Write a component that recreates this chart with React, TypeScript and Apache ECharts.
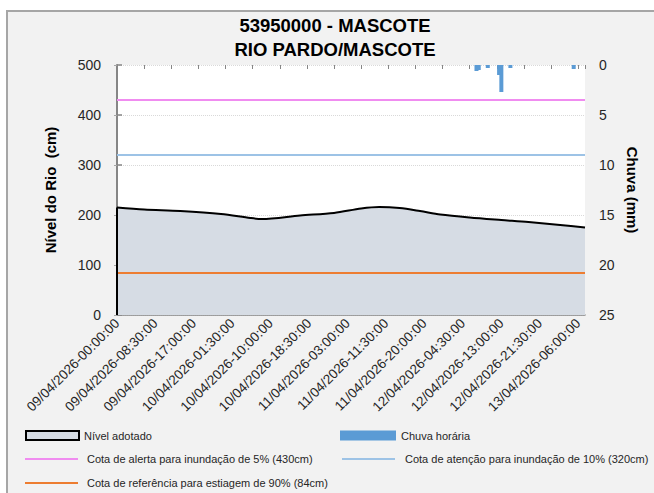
import React, { useEffect, useRef } from 'react';
import * as echarts from 'echarts';

// ---- data ----
const titleLines = ['53950000 - MASCOTE', 'RIO PARDO/MASCOTE'];

const xTickLabels = [
  '09/04/2026-00:00:00',
  '09/04/2026-08:30:00',
  '09/04/2026-17:00:00',
  '10/04/2026-01:30:00',
  '10/04/2026-10:00:00',
  '10/04/2026-18:30:00',
  '11/04/2026-03:00:00',
  '11/04/2026-11:30:00',
  '11/04/2026-20:00:00',
  '12/04/2026-04:30:00',
  '12/04/2026-13:00:00',
  '12/04/2026-21:30:00',
  '13/04/2026-06:00:00',
];
const xMinHours = 0;
const xMaxHours = 103.5;
const labelStepHours = 8.5;
const tickStepHours = 6;

// hours since 09/04/2026 00:00
const levelHours = [0, 6, 14, 23, 29.5, 32, 40.5, 48, 54, 58, 62.5, 67, 71.5, 78, 85, 91, 98, 103.5];
const levelValues = [215, 211, 208, 202, 194, 192, 199, 204, 213, 216, 214, 208, 201, 195, 190, 186, 180, 175];

const rainHours = [79.5, 80, 82, 84.5, 85, 87, 101];
const rainValues = [0.6, 0.5, 0.3, 1.0, 2.7, 0.3, 0.4];

const alertLevel = 430;
const attentionLevel = 320;
const droughtLevel = 84;

const NAME_LEVEL = 'Nível adotado';
const NAME_RAIN = 'Chuva horária';
const NAME_ALERT = 'Cota de alerta para inundação de 5% (430cm)';
const NAME_ATTENTION = 'Cota de atenção para inundação de 10% (320cm)';
const NAME_DROUGHT = 'Cota de referência para estiagem de 90% (84cm)';

const COLOR_ALERT = '#f08cf0';
const COLOR_ATTENTION = '#9dc3e6';
const COLOR_DROUGHT = '#ed7d31';

const FONT = '"Liberation Sans", Arial, sans-serif';

export default function App() {
  const ref = useRef<HTMLDivElement>(null);

  useEffect(() => {
    if (!ref.current) return;
    const chart = echarts.init(ref.current, null, { renderer: 'svg' });

    const levelData = levelHours.map((h, i) => [h, levelValues[i]]);
    const rainData = rainHours.map((h, i) => [h, rainValues[i]]);
    const flat = (v: number) => [[xMinHours, v], [xMaxHours, v]];

    const legendCommon = {
      padding: 0,
      selectedMode: false,
      orient: 'horizontal',
      textStyle: { fontSize: 11, color: '#262626', fontFamily: FONT },
    };

    const lineLegend = (name: string, color: string, left: number, top: number, pad: number) => ({
      ...legendCommon,
      left,
      top,
      itemWidth: 53,
      itemHeight: 2,
      textStyle: { ...legendCommon.textStyle, padding: [0, 0, 0, pad] },
      data: [{ name, icon: 'rect', itemStyle: { color, borderWidth: 0 } }],
    });

    const option: any = {
      animation: false,
      backgroundColor: '#f2f2f2',
      textStyle: { fontFamily: FONT },
      grid: {
        left: 117,
        right: 69,
        top: 65,
        bottom: 178,
        show: true,
        backgroundColor: '#ffffff',
        borderWidth: 0,
      },
      graphic: [
        { type: 'rect', silent: true, shape: { x: 0, y: 0, width: 654, height: 10 }, style: { fill: '#ffffff' } },
        { type: 'rect', silent: true, shape: { x: 0, y: 0, width: 6, height: 493 }, style: { fill: '#ffffff' } },
        {
          type: 'polyline',
          silent: true,
          shape: { points: [[7, 493], [7, 11], [654, 11]] },
          style: { stroke: '#a6a6a6', lineWidth: 2, fill: 'none' },
        },
        {
          type: 'text',
          x: 335,
          y: 25,
          style: {
            text: titleLines[0],
            fontSize: 18.5,
            fontWeight: 'bold',
            fontFamily: FONT,
            fill: '#000000',
            align: 'center',
            verticalAlign: 'middle',
          },
        },
        {
          type: 'text',
          x: 335,
          y: 49,
          style: {
            text: titleLines[1],
            fontSize: 18.5,
            fontWeight: 'bold',
            fontFamily: FONT,
            fill: '#000000',
            align: 'center',
            verticalAlign: 'middle',
          },
        },
      ],
      legend: [
        {
          ...legendCommon,
          left: 25,
          top: 430,
          itemWidth: 53,
          itemHeight: 9,
          data: [
            {
              name: NAME_LEVEL,
              icon: 'rect',
              itemStyle: { color: '#d6dce4', borderColor: '#000000', borderWidth: 2 },
            },
          ],
        },
        {
          ...legendCommon,
          left: 340,
          top: 430,
          itemWidth: 56,
          itemHeight: 10,
          data: [{ name: NAME_RAIN, icon: 'rect' }],
        },
        lineLegend(NAME_ALERT, COLOR_ALERT, 25, 453.5, 4),
        lineLegend(NAME_ATTENTION, COLOR_ATTENTION, 342, 453.5, 5),
        lineLegend(NAME_DROUGHT, COLOR_DROUGHT, 25, 477.5, 4),
      ],
      xAxis: [
        {
          type: 'value',
          min: xMinHours,
          max: xMaxHours,
          interval: labelStepHours,
          position: 'bottom',
          axisLine: { show: true, lineStyle: { color: '#868686', width: 1.5 } },
          axisTick: { show: false },
          splitLine: { show: false },
          axisLabel: {
            rotate: 45,
            margin: 6,
            fontSize: 13.5,
            color: '#262626',
            showMaxLabel: false,
            formatter: (v: number) => {
              const idx = Math.round(v / labelStepHours);
              if (Math.abs(v / labelStepHours - idx) > 1e-6) return '';
              return xTickLabels[idx] ?? '';
            },
          },
        },
        {
          type: 'value',
          min: xMinHours,
          max: xMaxHours,
          interval: tickStepHours,
          position: 'bottom',
          axisLine: { show: false },
          axisLabel: { show: false },
          splitLine: { show: false },
          axisTick: { show: true, length: 4, lineStyle: { color: '#868686', width: 1 } },
        },
      ],
      yAxis: [
        {
          type: 'value',
          min: 0,
          max: 500,
          interval: 100,
          position: 'left',
          name: 'Nível do Rio  (cm)',
          nameLocation: 'middle',
          nameGap: 59,
          nameTextStyle: { fontSize: 15, fontWeight: 'bold', color: '#000000', fontFamily: FONT },
          axisLine: { show: true, lineStyle: { color: '#bfbfbf', type: 'dotted', width: 1 } },
          axisTick: { show: true, length: 3, lineStyle: { color: '#a6a6a6' } },
          axisLabel: { fontSize: 14, color: '#262626', margin: 16 },
          splitLine: { show: true, lineStyle: { color: '#d9d9d9', type: 'dotted', width: 1 } },
        },
        {
          type: 'value',
          min: 0,
          max: 25,
          interval: 5,
          inverse: true,
          position: 'right',
          name: 'Chuva (mm)',
          nameLocation: 'middle',
          nameGap: 40,
          nameRotate: -90,
          nameTextStyle: { fontSize: 15, fontWeight: 'bold', color: '#000000', fontFamily: FONT },
          axisLine: { show: true, lineStyle: { color: '#868686', width: 2 } },
          axisTick: { show: true, length: 5, lineStyle: { color: '#868686', width: 1.5 } },
          axisLabel: { fontSize: 14, color: '#262626', margin: 14 },
          splitLine: { show: false },
        },
      ],
      series: [
        {
          name: NAME_LEVEL,
          type: 'line',
          xAxisIndex: 0,
          yAxisIndex: 0,
          data: levelData,
          smooth: 0.3,
          symbol: 'none',
          color: '#000000',
          lineStyle: { color: '#000000', width: 2 },
          areaStyle: { color: '#d6dce4', opacity: 1 },
          markLine: {
            silent: true,
            symbol: ['none', 'none'],
            label: { show: false },
            lineStyle: { color: '#000000', width: 2, type: 'solid' },
            data: [[{ coord: [levelHours[0], 0] }, { coord: [levelHours[0], levelValues[0]] }]],
          },
        },
        {
          name: NAME_RAIN,
          type: 'bar',
          xAxisIndex: 0,
          yAxisIndex: 1,
          data: rainData,
          barWidth: 4,
          color: '#5b9bd5',
          itemStyle: { color: '#5b9bd5' },
        },
        {
          name: NAME_ALERT,
          type: 'line',
          xAxisIndex: 0,
          yAxisIndex: 0,
          data: flat(alertLevel),
          symbol: 'none',
          color: COLOR_ALERT,
          lineStyle: { color: COLOR_ALERT, width: 2 },
        },
        {
          name: NAME_ATTENTION,
          type: 'line',
          xAxisIndex: 0,
          yAxisIndex: 0,
          data: flat(attentionLevel),
          symbol: 'none',
          color: COLOR_ATTENTION,
          lineStyle: { color: COLOR_ATTENTION, width: 2 },
        },
        {
          name: NAME_DROUGHT,
          type: 'line',
          xAxisIndex: 0,
          yAxisIndex: 0,
          data: flat(droughtLevel),
          symbol: 'none',
          color: COLOR_DROUGHT,
          lineStyle: { color: COLOR_DROUGHT, width: 2 },
        },
      ],
    };

    chart.setOption(option);
    return () => chart.dispose();
  }, []);

  return (
    <div
      ref={ref}
      style={{ position: 'fixed', left: 0, top: 0, width: 654, height: 493 }}
    />
  );
}
